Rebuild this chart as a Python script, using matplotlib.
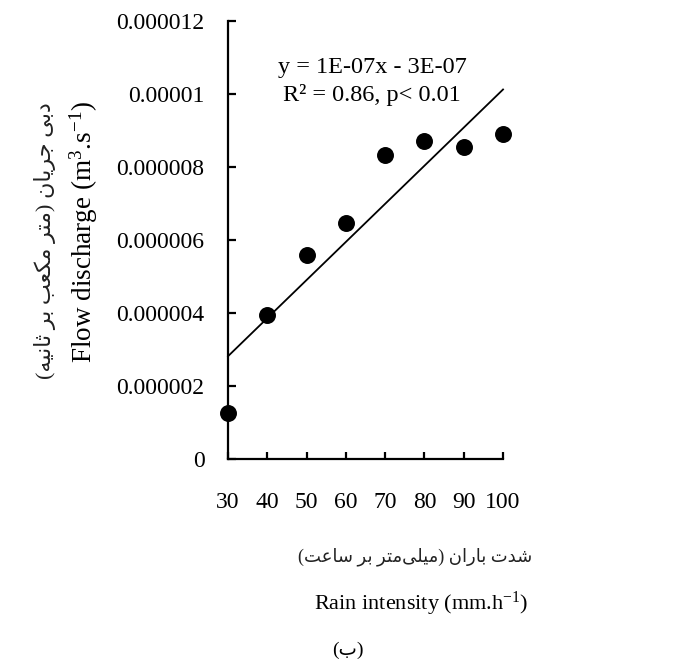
import numpy as np
import matplotlib
matplotlib.use("Agg")
import matplotlib.pyplot as plt
from matplotlib.ticker import FixedFormatter, FixedLocator

# data
rain = [30, 40, 50, 60, 70, 80, 90, 100]
flow = [1.26e-6, 3.95e-6, 5.59e-6, 6.47e-6, 8.33e-6, 8.71e-6, 8.55e-6, 8.90e-6]
x_ticks = [30, 40, 50, 60, 70, 80, 90, 100]
y_ticks = [0, 2e-6, 4e-6, 6e-6, 8e-6, 10e-6, 12e-6]
y_labels = ["0", "0.000002", "0.000004", "0.000006", "0.000008", "0.00001", "0.000012"]

y_title_fa = "دبی جریان (متر مکعب بر ثانیه)"
x_title_fa = "شدت باران (میلی\u200cمتر بر ساعت)"
panel_fa = "(ب)"

# matplotlib does no arabic shaping, so pick presentation forms by hand
# (isolated, final, initial, medial)
FORMS = {
    'ا': ('\uFE8D', '\uFE8E', None, None),
    'ب': ('\uFE8F', '\uFE90', '\uFE91', '\uFE92'),
    'ت': ('\uFE95', '\uFE96', '\uFE97', '\uFE98'),
    'ث': ('\uFE99', '\uFE9A', '\uFE9B', '\uFE9C'),
    'ج': ('\uFE9D', '\uFE9E', '\uFE9F', '\uFEA0'),
    'د': ('\uFEA9', '\uFEAA', None, None),
    'ر': ('\uFEAD', '\uFEAE', None, None),
    'س': ('\uFEB1', '\uFEB2', '\uFEB3', '\uFEB4'),
    'ش': ('\uFEB5', '\uFEB6', '\uFEB7', '\uFEB8'),
    'ع': ('\uFEC9', '\uFECA', '\uFECB', '\uFECC'),
    'ل': ('\uFEDD', '\uFEDE', '\uFEDF', '\uFEE0'),
    'م': ('\uFEE1', '\uFEE2', '\uFEE3', '\uFEE4'),
    'ن': ('\uFEE5', '\uFEE6', '\uFEE7', '\uFEE8'),
    'ه': ('\uFEE9', '\uFEEA', '\uFEEB', '\uFEEC'),
    'ک': ('\uFED9', '\uFEDA', '\uFEDB', '\uFEDC'),
    'ی': ('\uFEEF', '\uFEF0', '\uFEF3', '\uFEF4'),
}


def shape_fa(s):
    out = []
    for i, ch in enumerate(s):
        if ch == '\u200c':
            continue
        if ch not in FORMS:
            out.append(ch)
            continue
        prev = s[i - 1] if i > 0 else ''
        nxt = s[i + 1] if i + 1 < len(s) else ''
        join_prev = prev in FORMS and FORMS[prev][2] is not None
        join_next = FORMS[ch][2] is not None and nxt in FORMS
        iso, fin, ini, med = FORMS[ch]
        if join_prev and join_next:
            out.append(med)
        elif join_prev:
            out.append(fin)
        elif join_next:
            out.append(ini)
        else:
            out.append(iso)
    vis = "".join(out)[::-1]
    return vis.translate(str.maketrans("()", ")("))


plt.rcParams['font.family'] = ['Liberation Serif', 'DejaVu Sans']
plt.rcParams['mathtext.fontset'] = 'custom'
plt.rcParams['mathtext.rm'] = 'Liberation Serif'
plt.rcParams['mathtext.default'] = 'rm'

fig = plt.figure(figsize=(6.86, 6.65), dpi=100)
ax = fig.add_axes([0.3324, 0.3098, 0.4009, 0.6586])

ax.scatter(rain, flow, s=125, color='black', zorder=3, clip_on=False)

slope, intercept = np.polyfit(rain, flow, 1)
xf = np.array([min(rain), max(rain)])
ax.plot(xf, slope * xf + intercept, color='black', lw=1.3, clip_on=False)

ax.set_xlim(30, 100)
ax.set_ylim(0, 12e-6)
ax.xaxis.set_major_locator(FixedLocator(x_ticks))
ax.yaxis.set_major_locator(FixedLocator(y_ticks))
ax.yaxis.set_major_formatter(FixedFormatter(y_labels))

for sp in ['top', 'right']:
    ax.spines[sp].set_visible(False)
for sp in ['left', 'bottom']:
    ax.spines[sp].set_linewidth(1.6)

ax.tick_params(axis='x', direction='in', length=5, width=1.6, pad=24, labelsize=17)
ax.tick_params(axis='y', direction='in', length=6, width=1.6, pad=17, labelsize=17)

ax.text(0.524, 0.895, "y = 1E-07x - 3E-07", transform=ax.transAxes,
        ha='center', va='center', fontsize=17.5)
ax.text(0.524, 0.831, "R² = 0.86, p< 0.01", transform=ax.transAxes,
        ha='center', va='center', fontsize=17.5)

fig.text(0.1224, 0.651, "Flow discharge (m$^{3}$.s$^{-1}$)", rotation=90,
         ha='center', va='center', fontsize=19.5)
fig.text(0.0656, 0.6376, shape_fa(y_title_fa), rotation=90,
         ha='center', va='center', fontsize=16, color='#222222')
fig.text(0.605, 0.1624, shape_fa(x_title_fa), ha='center', va='center',
         fontsize=13, color='#222222')
fig.text(0.614, 0.0917, "Rain intensity (mm.h$^{-1}$)", ha='center', va='center',
         fontsize=16)
fig.text(0.507, 0.0226, shape_fa(panel_fa), ha='center', va='center', fontsize=14)

fig.savefig("out.png", dpi=100)
